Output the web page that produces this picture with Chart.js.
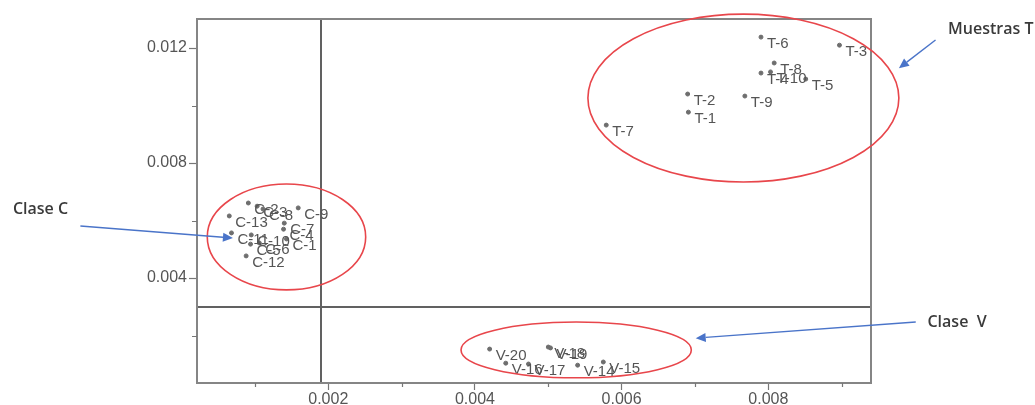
<!DOCTYPE html>
<html>
<head>
<meta charset="utf-8">
<script src="https://cdn.jsdelivr.net/npm/chart.js@4.4.1/dist/chart.umd.min.js"></script>
<style>
  html, body { margin: 0; padding: 0; background: #fff; overflow: hidden; }
  #wrap { width: 1035px; height: 405px; position: relative; }
</style>
</head>
<body>
<div id="wrap"><canvas id="c"></canvas></div>
<script>
// ---- samples, class C ----
const namesC = ['C-1','C-2','C-3','C-4','C-5','C-6','C-7','C-8','C-9','C-10','C-11','C-12','C-13'];
const xC = [0.00143,0.00091,0.00103,0.00139,0.00094,0.00106,0.00140,0.00111,0.00159,0.00095,0.00068,0.00088,0.00065];
const yC = [0.00536,0.00661,0.00650,0.00570,0.00518,0.00522,0.00591,0.00640,0.00644,0.00550,0.00557,0.00477,0.00616];

// ---- samples, class V ----
const namesV = ['V-14','V-15','V-16','V-17','V-18','V-19','V-20'];
const xV = [0.00540,0.00575,0.00442,0.00473,0.00500,0.00503,0.00420];
const yV = [0.00097,0.00108,0.00104,0.00101,0.00160,0.00157,0.00153];

// ---- samples, group T ----
const namesT = ['T-1','T-2','T-3','T-4','T-5','T-6','T-7','T-8','T-9','T-10'];
const xT = [0.00691,0.00690,0.00897,0.00790,0.00851,0.00790,0.00579,0.00808,0.00768,0.00803];
const yT = [0.00977,0.01040,0.01210,0.01113,0.01092,0.01238,0.00932,0.01148,0.01033,0.01117];

// ---- axes ----
const xRange = [0.00021, 0.0094];
const yRange = [0.00035, 0.01301];
const xStep = 0.001, xMajorEvery = 2;
const yStep = 0.002, yMajorEvery = 2;
const xDivider = 0.0019;   // vertical separating line
const yDivider = 0.003;    // horizontal separating line

// ---- group outlines (data units: centre x, centre y, radius x, radius y) ----
const groupOutlines = [
  [0.00766, 0.01026, 0.00212, 0.00292],
  [0.00143, 0.00543, 0.00108, 0.00184],
  [0.00538, 0.00150, 0.00157, 0.00097]
];
// ---- callouts: text, text x, text y, arrow from x,y, arrow to x,y (data units) ----
const callouts = [
  ['Muestras T', 0.01045, 0.01263, 0.01028, 0.01228, 0.00978, 0.01130],
  ['Clase C',   -0.00230, 0.00637, -0.00138, 0.00581, 0.00070, 0.00539],
  ['Clase  V',   0.01017, 0.00247, 0.01001, 0.00247, 0.00701, 0.00191]
];

const toPts = (xs, ys) => xs.map((x, i) => ({ x: x, y: ys[i] }));
const isMajor = (v, step, every) => Math.round(v / step) % every === 0;

const frameAndMinorTicks = {
  id: 'frameAndMinorTicks',
  beforeDatasetsDraw(chart) {
    const { ctx, chartArea: a, scales } = chart;
    const sx = scales.x, sy = scales.y;
    ctx.save();
    // divider lines
    ctx.strokeStyle = '#616161';
    ctx.lineWidth = 2;
    const vx = Math.round(sx.getPixelForValue(xDivider));
    const hy = Math.round(sy.getPixelForValue(yDivider));
    ctx.beginPath();
    ctx.moveTo(vx, a.top); ctx.lineTo(vx, a.bottom);
    ctx.moveTo(a.left, hy); ctx.lineTo(a.right, hy);
    ctx.stroke();
    // frame
    ctx.strokeStyle = '#858585';
    ctx.lineWidth = 2;
    ctx.strokeRect(a.left, a.top, a.right - a.left, a.bottom - a.top);
    // minor tick marks
    ctx.strokeStyle = '#777';
    ctx.lineWidth = 1.2;
    ctx.beginPath();
    sx.ticks.forEach(t => {
      if (!isMajor(t.value, xStep, xMajorEvery)) {
        const p = Math.round(sx.getPixelForValue(t.value)) + 0.5;
        ctx.moveTo(p, a.bottom); ctx.lineTo(p, a.bottom + 4);
      }
    });
    sy.ticks.forEach(t => {
      if (!isMajor(t.value, yStep, yMajorEvery)) {
        const p = Math.round(sy.getPixelForValue(t.value)) + 0.5;
        ctx.moveTo(a.left, p); ctx.lineTo(a.left - 5, p);
      }
    });
    ctx.stroke();
    ctx.restore();
  }
};

const pointNames = {
  id: 'pointNames',
  afterDatasetsDraw(chart) {
    const ctx = chart.ctx;
    ctx.save();
    ctx.font = '15px "Liberation Sans", Arial, sans-serif';
    ctx.fillStyle = '#555';
    ctx.textBaseline = 'middle';
    ctx.textAlign = 'left';
    chart.data.datasets.forEach((ds, di) => {
      const meta = chart.getDatasetMeta(di);
      meta.data.forEach((el, i) => {
        ctx.fillText(ds.names[i], el.x + 6, el.y + 7);
      });
    });
    ctx.restore();
  }
};

const callOuts = {
  id: 'callOuts',
  afterDraw(chart) {
    const ctx = chart.ctx;
    const px = v => chart.scales.x.getPixelForValue(v);
    const py = v => chart.scales.y.getPixelForValue(v);
    ctx.save();
    // outlines
    ctx.strokeStyle = '#e8464b';
    ctx.lineWidth = 1.6;
    groupOutlines.forEach(([cx, cy, rx, ry]) => {
      const x0 = px(cx), y0 = py(cy);
      const rxp = Math.abs(px(cx + rx) - x0), ryp = Math.abs(py(cy + ry) - y0);
      ctx.beginPath();
      ctx.ellipse(x0, y0, rxp, ryp, 0, 0, Math.PI * 2);
      ctx.stroke();
    });
    // arrows + text
    callouts.forEach(([txt, tx, ty, fx, fy, ex, ey]) => {
      const x1 = px(fx), y1 = py(fy), x2 = px(ex), y2 = py(ey);
      const ang = Math.atan2(y2 - y1, x2 - x1);
      const hl = 10, hw = 4.5;
      const bx = x2 - hl * Math.cos(ang), by = y2 - hl * Math.sin(ang);
      ctx.strokeStyle = '#4a74c9';
      ctx.fillStyle = '#4a74c9';
      ctx.lineWidth = 1.4;
      ctx.beginPath();
      ctx.moveTo(x1, y1); ctx.lineTo(bx, by);
      ctx.stroke();
      ctx.beginPath();
      ctx.moveTo(x2, y2);
      ctx.lineTo(bx + hw * Math.sin(ang), by - hw * Math.cos(ang));
      ctx.lineTo(bx - hw * Math.sin(ang), by + hw * Math.cos(ang));
      ctx.closePath();
      ctx.fill();
      ctx.font = '600 16px "Open Sans", "Liberation Sans", sans-serif';
      ctx.fillStyle = '#3a3a3a';
      ctx.textBaseline = 'middle';
      ctx.textAlign = 'left';
      ctx.fillText(txt, px(tx), py(ty));
    });
    ctx.restore();
  }
};

const pointStyle = {
  pointRadius: 2,
  pointHoverRadius: 2,
  pointBackgroundColor: '#6e6e6e',
  pointBorderColor: '#6e6e6e',
  pointBorderWidth: 1
};

new Chart(document.getElementById('c'), {
  type: 'scatter',
  data: {
    datasets: [
      Object.assign({ label: 'Clase C', names: namesC, data: toPts(xC, yC) }, pointStyle),
      Object.assign({ label: 'Clase V', names: namesV, data: toPts(xV, yV) }, pointStyle),
      Object.assign({ label: 'Muestras T', names: namesT, data: toPts(xT, yT) }, pointStyle)
    ]
  },
  options: {
    responsive: true,
    maintainAspectRatio: false,
    animation: false,
    events: [],
    layout: { padding: { top: 19, right: 164, left: 0, bottom: 0 } },
    plugins: { legend: { display: false }, tooltip: { enabled: false } },
    scales: {
      x: {
        type: 'linear',
        position: 'bottom',
        min: xRange[0],
        max: xRange[1],
        border: { display: false },
        grid: {
          drawOnChartArea: false,
          drawTicks: true,
          tickLength: 7,
          tickWidth: 1.2,
          tickColor: c => isMajor(c.tick.value, xStep, xMajorEvery) ? '#777' : 'rgba(0,0,0,0)'
        },
        ticks: {
          stepSize: xStep,
          includeBounds: false,
          autoSkip: false,
          maxRotation: 0,
          padding: 0,
          color: '#555',
          font: { family: '"Liberation Sans", Arial, sans-serif', size: 16 },
          callback: v => isMajor(v, xStep, xMajorEvery) ? v.toFixed(3) : ''
        },
        afterFit: s => { s.height = 22; }
      },
      y: {
        type: 'linear',
        min: yRange[0],
        max: yRange[1],
        border: { display: false },
        grid: {
          drawOnChartArea: false,
          drawTicks: true,
          tickLength: 8,
          tickWidth: 1.2,
          tickColor: c => isMajor(c.tick.value, yStep, yMajorEvery) ? '#777' : 'rgba(0,0,0,0)'
        },
        ticks: {
          stepSize: yStep,
          includeBounds: false,
          autoSkip: false,
          padding: 2,
          color: '#555',
          font: { family: '"Liberation Sans", Arial, sans-serif', size: 16 },
          callback: v => isMajor(v, yStep, yMajorEvery) ? v.toFixed(3) : ''
        },
        afterFit: s => { s.width = 197; }
      }
    }
  },
  plugins: [frameAndMinorTicks, pointNames, callOuts]
});
</script>
</body>
</html>
